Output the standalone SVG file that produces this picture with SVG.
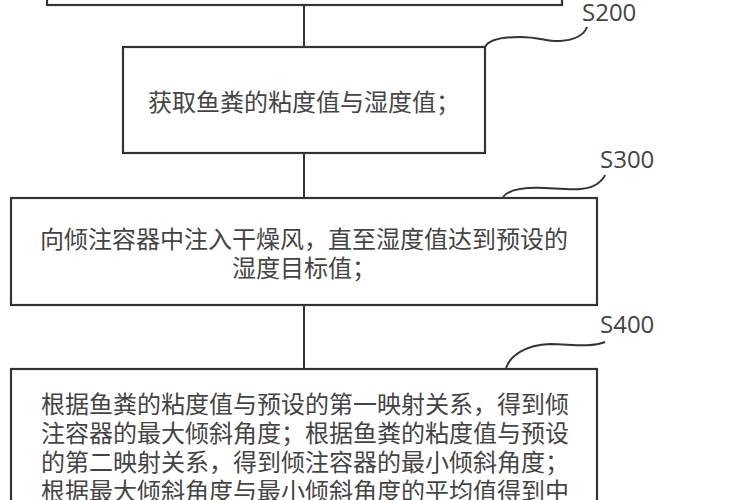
<svg xmlns="http://www.w3.org/2000/svg" width="750" height="500" viewBox="0 0 750 500">
<style>
.box{fill:#fff;stroke:#333;stroke-width:2.2}
.ln{fill:none;stroke:#333;stroke-width:2}
.t{font-family:"Noto Sans CJK SC","Noto Sans",sans-serif;font-size:24px;fill:#444}
.lbl{font-family:"Open Sans","Noto Sans",sans-serif;font-size:24px;fill:#444}
</style>
<rect width="750" height="500" fill="#fff"/>
<g id="connectors">
<line class="ln" x1="304" y1="5" x2="304" y2="47"/>
<line class="ln" x1="304" y1="153" x2="304" y2="198"/>
<line class="ln" x1="304" y1="305" x2="304" y2="369"/>
<path class="ln" d="M485,47 C488,41 500,37 520,37 C540,37 548,42 560,41 C575,40 584,35 587,27"/>
<path class="ln" d="M503,197 C508,190 520,187 545,188 C565,189 585,192 597,184 C601,181 604,178 605,175"/>
<path class="ln" d="M506,368 C510,356 525,345 550,344 C570,344 590,348 605,342"/>
</g>
<g id="step100">
<rect class="box" x="47" y="-20" width="515" height="25"/>
</g>
<g id="step200">
<rect class="box" x="123" y="47" width="362" height="106"/>
<text class="t" x="304" y="111" text-anchor="middle">获取鱼粪的粘度值与湿度值；</text>
<text class="lbl" x="582" y="21">S200</text>
</g>
<g id="step300">
<rect class="box" x="11" y="198" width="586" height="107"/>
<text class="t" x="304" y="248" text-anchor="middle">向倾注容器中注入干燥风，直至湿度值达到预设的</text>
<text class="t" x="304" y="277" text-anchor="middle">湿度目标值；</text>
<text class="lbl" x="600" y="168">S300</text>
</g>
<g id="step400">
<rect class="box" x="11" y="369" width="586" height="160"/>
<text class="t" x="305" y="413" text-anchor="middle">根据鱼粪的粘度值与预设的第一映射关系，得到倾</text>
<text class="t" x="305" y="442" text-anchor="middle">注容器的最大倾斜角度；根据鱼粪的粘度值与预设</text>
<text class="t" x="305" y="471" text-anchor="middle">的第二映射关系，得到倾注容器的最小倾斜角度；</text>
<text class="t" x="305" y="500" text-anchor="middle">根据最大倾斜角度与最小倾斜角度的平均值得到中</text>
<text class="lbl" x="600" y="333">S400</text>
</g>
</svg>
